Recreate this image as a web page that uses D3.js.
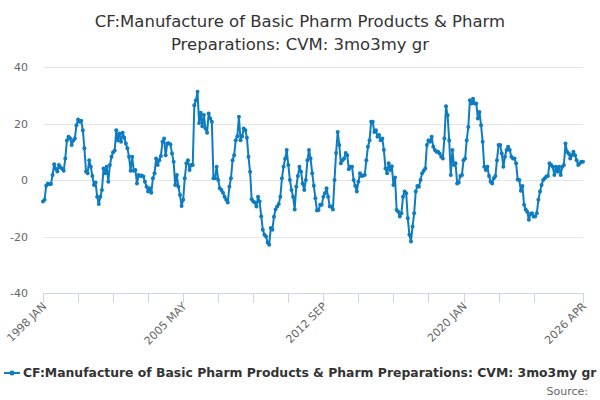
<!DOCTYPE html>
<html lang="en">
<head>
    <meta charset="utf-8">
    <script src="https://d3js.org/d3.v7.min.js"></script>
    <style>
        body { margin: 0; background: #fff; }
        svg text { font-family: "DejaVu Sans", sans-serif; }
    </style>
</head>
<body>
<script>
    // monthly values, starting 1998 JAN
    let startYear = 1998;
    let values = [
        -7.6, -7, -2, -1.2, -1.5, -1.4, 1.8, 5.6, 4, 3, 5.3, 4.5,
        4, 3.3, 7.6, 14, 15.3, 14.8, 12.4, 14, 14.7, 19.4, 21.4, 20.6,
        21, 17.6, 11.2, 3, 2.4, 7, 4.7, 1.4, -1.8, -0.9, -5.9, -8.5,
        -5.9, -3.5, 4.1, 2.4, 4.7, -0.6, 5.3, 8.2, 9.8, 10.4, 17.6, 14,
        16.5, 13.5, 16.7, 15, 12.9, 11.2, 8.2, 3.3, 8.2, 3.3, 3.5, -1.2,
        1.8, 1.4, 1.6, 1.2, -0.6, -2.4, -4.1, -2.9, -4.5, 0.6, 2.4, 7.6,
        5.3, 7, 8.5, 13.5, 14.7, 8.8, 12.9, 13, 12.6, 9.4, 6.5, -1.8,
        1.8, -2.4, -5.3, -9.2, -7, 0.6, 5.9, 7, 3.5, 5.3, 5.3, 26.5,
        28.2, 31.2, 20.2, 23.8, 19, 23, 18.2, 16.7, 23.5, 21.8, 20.6, 0.6,
        0.6, 4.7, 0, -2.9, -3.5, -4.5, -5.9, -7, -8, -2.4, 0.6, 7,
        8.8, 14.1, 15.5, 22.4, 14.1, 15.5, 18.2, 17.6, 15, 8.2, 2.9, -6.8,
        -7.6, -8, -9.4, -5.9, -7.6, -12.9, -17.6, -19.4, -20, -22.1, -22.9, -17,
        -17.6, -13, -10.4, -9.4, -8.5, -5.9, 0.6, 4.7, 7.5, 10.6, 5.3, 0,
        -3.5, -5.9, -10.4, -2.4, 1.4, 4.7, 2.9, -1.2, -3.5, 0, 7, 10.6,
        7.6, 2.4, -2, -6.5, -10.8, -10.6, -8.8, -8.8, -5.9, -4.7, -2.9, -5.9,
        -9.4, -9.4, -10.4, 0, 9.6, 17, 12.4, 5.9, 7, 7.6, 9.6, 8.8,
        3.8, 4.7, 4.7, 0, -2, -4.1, -0.6, 2.4, 1.4, 1.6, 1.8, 7,
        11.8, 14.1, 20.6, 20.6, 17, 17.6, 15.3, 15.9, 14.1, 14.7, 10.6, 4.1,
        2.4, 5.9, 3.5, 4.9, -1.8, 0.9, -10.6, -11.2, -12.9, -11.8, -5.9, -4.1,
        -4.7, -13.5, -19.4, -21.8, -16.5, -11.8, -4.1, -2.1, -2.4, 0, 2.4, 3.3,
        4.1, 12.4, 14.1, 13.5, 15.3, 11.8, 10.6, 10, 10, 9.4, 8.2, 7.6,
        14.7, 26.1, 22.9, 14, 1.8, 10.6, 5.3, 5.9, -1.2, -0.9, 1.4, 1.8,
        7, 7.6, 14.1, 18.8, 28.2, 27.1, 28.8, 27.1, 27.1, 21.8, 24.1, 19.4,
        13.5, 4.7, 3.5, 4.7, 1.4, -0.6, -1.2, 0.6, 1.4, 7, 12.4, 12.4,
        9.4, 4.7, 8.2, 10.6, 11.8, 10.6, 8.2, 7.6, 7.6, 5.9, 0.2, 0,
        -3.8, -2.1, -8.8, -10.4, -11.2, -14.1, -12, -11.8, -12.9, -12.9, -11.8, -7,
        -4.1, -1.8, 0, 0.6, 1.2, 1.4, 5.9, 5.3, 4.7, 1.8, 4.7, 2.9,
        4.7, 1.8, 4.7, 5.3, 12.9, 10, 9.4, 7.6, 8.8, 10, 8.8, 7,
        5.3, 5.9, 6.5, 6.5
    ];
    let monthNames = ["JAN", "FEB", "MAR", "APR", "MAY", "JUN", "JUL", "AUG", "SEP", "OCT", "NOV", "DEC"];
    let labelIndexes = [0, 88, 176, 264, 339];
    let yTicks = [-40, -20, 0, 20, 40];
    let seriesName = "CF:Manufacture of Basic Pharm Products & Pharm Preparations: CVM: 3mo3my gr";
    let titleLines = ["CF:Manufacture of Basic Pharm Products & Pharm", "Preparations: CVM: 3mo3my gr"];

    function monthLabel(i) {
        return (startYear + Math.floor(i / 12)) + " " + monthNames[i % 12];
    }

    var width = 600, height = 400;
    var plotLeft = 43, plotRight = 583, plotTop = 67, plotBottom = 293;
    var colour = "#0d7cc1";

    var svg = d3.select("body").append("svg")
        .attr("width", width)
        .attr("height", height);

    var x = d3.scaleLinear().domain([0, values.length - 1]).range([plotLeft, plotRight]);
    var y = d3.scaleLinear().domain([-40, 40]).range([plotBottom, plotTop]);

    // title
    svg.append("g").selectAll("text")
        .data(titleLines)
        .enter().append("text")
        .attr("x", width / 2)
        .attr("y", function(d, i) { return 27 + i * 23; })
        .attr("text-anchor", "middle")
        .attr("fill", "#333")
        .style("font-size", "16.5px")
        .text(function(d) { return d; });

    // grid + y labels
    var yAxis = svg.append("g");
    yAxis.selectAll("line")
        .data(yTicks.filter(function(d) { return d !== -40; }))
        .enter().append("line")
        .attr("x1", plotLeft).attr("x2", plotRight)
        .attr("y1", function(d) { return Math.round(y(d)) + 0.5; })
        .attr("y2", function(d) { return Math.round(y(d)) + 0.5; })
        .attr("stroke", "#e6e6e6");
    yAxis.selectAll("text")
        .data(yTicks)
        .enter().append("text")
        .attr("x", 28)
        .attr("y", function(d) { return y(d) + 4; })
        .attr("text-anchor", "end")
        .attr("fill", "#666")
        .style("font-size", "11px")
        .text(function(d) { return d; });

    // x axis
    var tickIdx = d3.range(0, 320, 22).concat([values.length - 1]);
    var xAxis = svg.append("g");
    xAxis.append("line")
        .attr("x1", plotLeft).attr("x2", plotRight)
        .attr("y1", plotBottom + 0.5).attr("y2", plotBottom + 0.5)
        .attr("stroke", "#ccd6eb");
    xAxis.selectAll(".tick")
        .data(tickIdx)
        .enter().append("line")
        .attr("x1", function(d) { return Math.round(x(d)) + 0.5; })
        .attr("x2", function(d) { return Math.round(x(d)) + 0.5; })
        .attr("y1", plotBottom).attr("y2", plotBottom + 10)
        .attr("stroke", "#ccd6eb");
    xAxis.selectAll("text")
        .data(labelIndexes)
        .enter().append("text")
        .attr("transform", function(d) { return "translate(" + (x(d) + 4) + "," + (plotBottom + 14) + ") rotate(-45)"; })
        .attr("text-anchor", "end")
        .attr("fill", "#666")
        .style("font-size", "11px")
        .text(function(d) { return monthLabel(d); });

    // series
    var line = d3.line()
        .x(function(d, i) { return x(i); })
        .y(function(d) { return y(d); });
    svg.append("path")
        .datum(values)
        .attr("d", line)
        .attr("fill", "none")
        .attr("stroke", colour)
        .attr("stroke-width", 2)
        .attr("stroke-linejoin", "round");
    svg.append("g").selectAll("circle")
        .data(values)
        .enter().append("circle")
        .attr("cx", function(d, i) { return x(i); })
        .attr("cy", function(d) { return y(d); })
        .attr("r", 2)
        .attr("fill", colour);

    // legend
    var legend = svg.append("g");
    legend.append("line")
        .attr("x1", 4).attr("x2", 20)
        .attr("y1", 373).attr("y2", 373)
        .attr("stroke", colour).attr("stroke-width", 2);
    legend.append("circle")
        .attr("cx", 12).attr("cy", 373).attr("r", 2.5)
        .attr("fill", colour);
    legend.append("text")
        .attr("x", 23).attr("y", 377)
        .attr("fill", "#333")
        .style("font-size", "12.4px")
        .style("font-weight", "bold")
        .text(seriesName);

    svg.append("text")
        .attr("x", 588).attr("y", 395)
        .attr("text-anchor", "end")
        .attr("fill", "#666")
        .style("font-size", "11px")
        .text("Source:");
</script>
</body>
</html>
